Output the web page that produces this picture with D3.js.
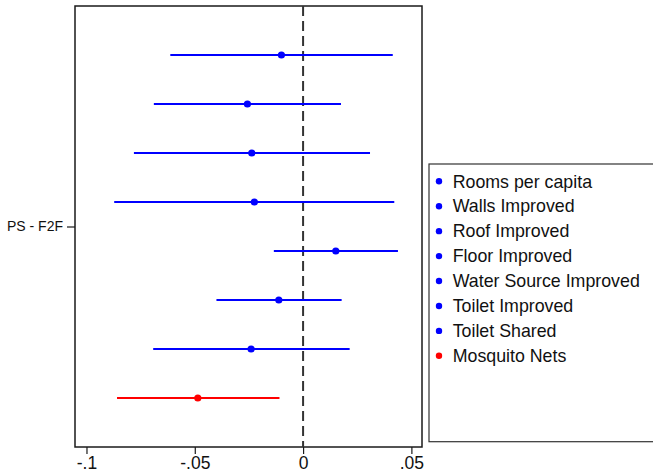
<!DOCTYPE html>
<html>
<head>
<meta charset="utf-8">
<script src="https://cdn.jsdelivr.net/npm/d3@7"></script>
<style>
  html, body { margin: 0; padding: 0; background: #fff; }
  svg { display: block; font-family: "Liberation Sans", Arial, sans-serif; }
</style>
</head>
<body>
<svg id="chart" width="653" height="472"></svg>
<script>
// Outcome categories, top to bottom
const outcomes = [
  "Rooms per capita", "Walls Improved", "Roof Improved", "Floor Improved",
  "Water Source Improved", "Toilet Improved", "Toilet Shared", "Mosquito Nets"
];
// Point estimates and confidence bounds
const estimates = [-0.0100, -0.0257, -0.0237, -0.0225, 0.0151, -0.0112, -0.0240, -0.0486];
const lowerCI   = [-0.0613, -0.0689, -0.0781, -0.0872, -0.0135, -0.0400, -0.0692, -0.0859];
const upperCI   = [ 0.0414,  0.0175,  0.0309,  0.0421,  0.0438,  0.0178,  0.0215, -0.0109];
const colors    = ["#0000ff", "#0000ff", "#0000ff", "#0000ff", "#0000ff", "#0000ff", "#0000ff", "#ff0000"];
const xTicks = [-0.1, -0.05, 0, 0.05];
const xTickLabels = ["-.1", "-.05", "0", ".05"];
const groupLabel = "PS - F2F";

const svg = d3.select("#chart");
const plot = { left: 75, right: 422, top: 6, bottom: 447 };

const x = d3.scaleLinear().domain([-0.1053, 0.0549]).range([plot.left, plot.right]);
const y = d3.scalePoint().domain(outcomes).range([plot.top, plot.bottom]).padding(1);

// Plot frame
svg.append("rect")
  .attr("x", plot.left).attr("y", plot.top)
  .attr("width", plot.right - plot.left).attr("height", plot.bottom - plot.top)
  .attr("fill", "none").attr("stroke", "#1a1a1a").attr("stroke-width", 1.5);

// Bottom axis
const xAxis = d3.axisBottom(x)
  .tickValues(xTicks)
  .tickFormat((d, i) => xTickLabels[i])
  .tickSize(7).tickSizeOuter(0).tickPadding(3);
const gx = svg.append("g").attr("transform", `translate(0,${plot.bottom})`).call(xAxis);
gx.select(".domain").remove();
gx.selectAll(".tick line").attr("stroke", "#1a1a1a").attr("stroke-width", 1.2);
gx.selectAll(".tick text").attr("fill", "#111").style("font-size", "17.5px")
  .style("font-family", '"Liberation Sans", Arial, sans-serif');

// Left axis with a single group tick at the vertical centre
const yGroup = d3.scalePoint().domain([groupLabel]).range([plot.top, plot.bottom]).padding(0.5);
const gy = svg.append("g").attr("transform", `translate(${plot.left},0)`)
  .call(d3.axisLeft(yGroup).tickSize(8).tickSizeOuter(0).tickPadding(4));
gy.select(".domain").remove();
gy.selectAll(".tick line").attr("stroke", "#1a1a1a").attr("stroke-width", 1.2);
gy.selectAll(".tick text").attr("fill", "#111").style("font-size", "14px")
  .style("font-family", '"Liberation Sans", Arial, sans-serif');

// Zero reference line
svg.append("line")
  .attr("x1", x(0)).attr("x2", x(0))
  .attr("y1", plot.top).attr("y2", plot.bottom)
  .attr("stroke", "#333").attr("stroke-width", 2)
  .attr("stroke-dasharray", "10,5");

// Confidence intervals
svg.append("g").selectAll("line")
  .data(outcomes)
  .join("line")
  .attr("x1", (d, i) => x(lowerCI[i]))
  .attr("x2", (d, i) => x(upperCI[i]))
  .attr("y1", d => y(d)).attr("y2", d => y(d))
  .attr("stroke", (d, i) => colors[i]).attr("stroke-width", 2);

// Point estimates
svg.append("g").selectAll("circle")
  .data(outcomes)
  .join("circle")
  .attr("cx", (d, i) => x(estimates[i]))
  .attr("cy", d => y(d))
  .attr("r", 3.6)
  .attr("fill", (d, i) => colors[i]);

// Legend
const legend = svg.append("g");
legend.append("rect")
  .attr("x", 429).attr("y", 164).attr("width", 240).attr("height", 277.7)
  .attr("fill", "#fff").attr("stroke", "#333").attr("stroke-width", 1.2);
const item = legend.selectAll("g.item")
  .data(outcomes)
  .join("g").attr("class", "item")
  .attr("transform", (d, i) => `translate(439,${181.3 + i * 24.93})`);
item.append("circle").attr("r", 3.2).attr("fill", (d, i) => colors[i]);
item.append("text")
  .attr("x", 13.7).attr("dy", "0.35em")
  .attr("fill", "#111").style("font-size", "17.8px")
  .text(d => d);
</script>
</body>
</html>
